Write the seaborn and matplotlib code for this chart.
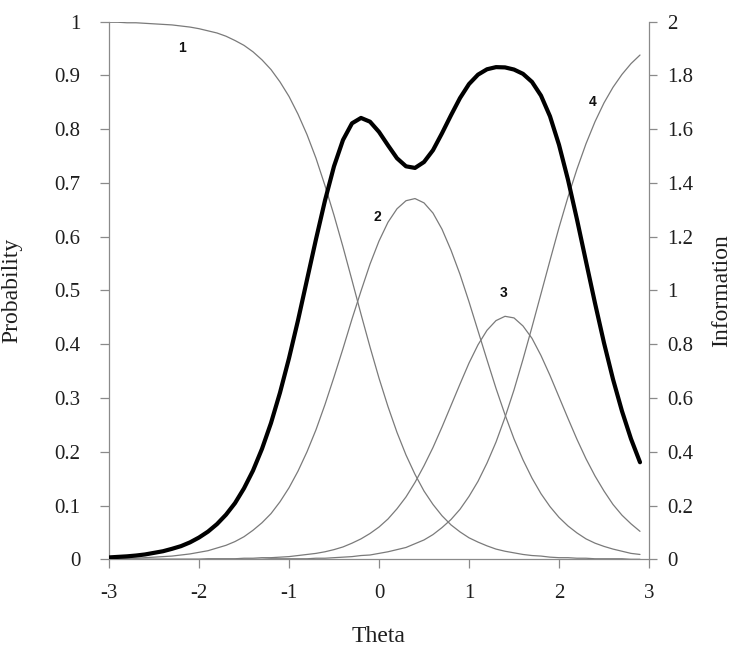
import numpy as np
import matplotlib
matplotlib.use("Agg")
import matplotlib.pyplot as plt
import seaborn as sns

# ---- data ----
theta = [round(-3 + 0.1 * i, 1) for i in range(60)]  # -3.0 ... 2.9

p_cat1 = [999,999,998,998,997,996,995,994,992,990,987,983,979,973,965,956,944,929,911,888,
          861,828,790,746,695,640,581,519,456,395,337,284,236,194,158,127,102,81,64,51,
          40,32,25,19,15,12,9,7,6,4,3,3,2,2,1,1,1,1,0,0]
p_cat2 = [1,1,2,2,3,4,5,6,8,10,13,16,21,26,33,42,54,68,85,107,
          133,164,200,241,288,339,392,447,499,549,592,627,652,667,671,663,644,614,575,530,
          479,425,371,318,269,224,185,151,122,98,78,62,49,38,30,24,19,15,11,9]
p_cat3 = [0,0,0,0,0,0,0,0,0,0,0,1,1,1,1,2,2,3,3,4,
          5,7,9,11,14,18,23,30,38,48,60,75,94,116,143,174,208,246,286,326,
          365,399,426,444,452,449,434,411,379,342,302,262,223,187,155,127,102,82,66,52]
p_cat4 = [0,0,0,0,0,0,0,0,0,0,0,0,0,0,0,0,0,0,1,1,
          1,1,1,2,2,3,4,5,7,8,11,14,18,22,29,36,46,59,74,93,
          117,145,179,218,264,315,372,432,494,556,617,674,726,773,814,849,878,902,922,938]
information = [7,9,11,14,18,24,30,39,49,63,81,103,131,166,209,264,330,411,507,620,
               748,889,1040,1191,1335,1462,1560,1622,1642,1628,1590,1540,1492,1462,1456,1478,1522,1585,1652,1716,
               1768,1803,1823,1831,1830,1822,1806,1776,1725,1648,1542,1412,1264,1108,953,805,670,551,448,361]

category_labels = ['1', '2', '3', '4']
label_pos = [(-2.19, 0.951), (-0.02, 0.637), (1.38, 0.495), (2.37, 0.851)]

prob_ticks = [0, 0.1, 0.2, 0.3, 0.4, 0.5, 0.6, 0.7, 0.8, 0.9, 1]
prob_ticklabels = ['0', '0.1', '0.2', '0.3', '0.4', '0.5', '0.6', '0.7', '0.8', '0.9', '1']
info_ticks = [0, 0.2, 0.4, 0.6, 0.8, 1, 1.2, 1.4, 1.6, 1.8, 2]
info_ticklabels = ['0', '0.2', '0.4', '0.6', '0.8', '1', '1.2', '1.4', '1.6', '1.8', '2']
theta_ticks = [-3, -2, -1, 0, 1, 2, 3]

# ---- styling ----
sns.set_style("ticks")
plt.rcParams['font.family'] = ['Liberation Serif', 'DejaVu Serif']
plt.rcParams['axes.unicode_minus'] = False

axis_gray = '#8a8a8a'
curve_gray = '#7a7a7a'
text_col = '#1e1e1e'

fig = plt.figure(figsize=(7.33, 6.52), dpi=100)
ax = fig.add_axes([109/733, 1-559.3/652, 540/733, 537.6/652])
ax2 = ax.twinx()

for series in [p_cat1, p_cat2, p_cat3, p_cat4]:
    sns.lineplot(x=theta, y=[v / 1000 for v in series], ax=ax, color=curve_gray, lw=0.9)
sns.lineplot(x=theta, y=[v / 1000 for v in information], ax=ax2, color='black', lw=3.0)

for lab, (lx, ly) in zip(category_labels, label_pos):
    ax.text(lx, ly, lab, ha='center', va='center', fontsize=10, fontweight='bold',
            family=['Liberation Sans', 'DejaVu Sans'], color='#111111')

ax.set_xlim(-3, 3)
ax.set_ylim(0, 1)
ax2.set_ylim(0, 2)
ax.set_xticks(theta_ticks)
ax.set_xticklabels([str(t) for t in theta_ticks])
ax.set_yticks(prob_ticks)
ax.set_yticklabels(prob_ticklabels)
ax2.set_yticks(info_ticks)
ax2.set_yticklabels(info_ticklabels)

for a in (ax, ax2):
    for sp in a.spines.values():
        sp.set_color(axis_gray)
        sp.set_linewidth(0.9)
    a.spines['top'].set_visible(False)
ax.spines['right'].set_visible(False)
ax2.spines['left'].set_visible(False)
ax2.spines['bottom'].set_visible(False)

ax.tick_params(axis='y', direction='out', length=6.5, width=0.9, color=axis_gray,
               labelsize=15, labelcolor=text_col, pad=14)
ax.tick_params(axis='x', direction='out', length=6.5, width=0.9, color=axis_gray,
               labelsize=15, labelcolor=text_col, pad=11)
ax2.tick_params(axis='y', direction='out', length=6, width=0.9, color=axis_gray,
                labelsize=15, labelcolor=text_col, pad=7)

ax.set_ylabel('Probability', fontsize=17, color=text_col, va='center')
ax.yaxis.set_label_coords((12 - 109) / 540, 0.5)
ax2.set_ylabel('Information', fontsize=17, color=text_col, va='center', rotation=90)
ax2.yaxis.set_label_coords((722 - 109) / 540, 0.5)
ax.set_xlabel('Theta', fontsize=17, color=text_col, va='center')
ax.xaxis.set_label_coords(0.5, (559.3 - 636) / 537.6)

fig.savefig("out.png", dpi=100)
